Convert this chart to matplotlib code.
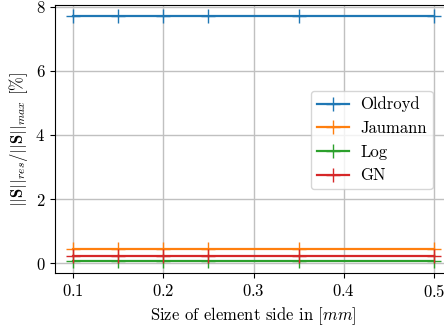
import numpy as np
import matplotlib
matplotlib.use('Agg')
import matplotlib.pyplot as plt

# data
sizes = [0.1, 0.15, 0.2, 0.25, 0.35, 0.5]
oldroyd = [7.72, 7.72, 7.72, 7.72, 7.72, 7.72]
jaumann = [0.45, 0.45, 0.45, 0.45, 0.45, 0.45]
logr = [0.07, 0.07, 0.07, 0.07, 0.07, 0.07]
gn = [0.21, 0.21, 0.21, 0.21, 0.21, 0.21]
labels = ['Oldroyd', 'Jaumann', 'Log', 'GN']

plt.rcParams['font.family'] = 'serif'
plt.rcParams['font.serif'] = ['cmr10', 'DejaVu Serif']
plt.rcParams['mathtext.fontset'] = 'cm'
plt.rcParams['axes.formatter.use_mathtext'] = True
plt.rcParams['font.size'] = 12

fig = plt.figure(figsize=(4.44, 3.32), dpi=100)
ax = fig.add_axes([55/444, 59/332, 397/444, 268/332])

for ys, lab in zip([oldroyd, jaumann, logr, gn], labels):
    ax.plot(sizes, ys, marker='+', markersize=10, linewidth=1.6, label=lab)

ax.set_xlim(0.08, 0.52)
ax.set_ylim(-0.31, 8.06)
ax.set_xticks([0.1, 0.2, 0.3, 0.4, 0.5])
ax.set_yticks([0, 2, 4, 6, 8])
ax.grid(True, color='#c0c0c0', linewidth=1.0)
ax.set_axisbelow(True)
ax.set_xlabel('Size of element side in [$mm$]')
ax.set_ylabel(r'$||\mathbf{S}||_{res}/||\mathbf{S}||_{max}$ $[\%]$')

ax.legend(loc='center right', bbox_to_anchor=(441/444, 1 - 140/332),
          bbox_transform=fig.transFigure, fontsize=12,
          handlelength=1.9, borderpad=0.35, handletextpad=0.7)

fig.savefig('out.png', dpi=100)
